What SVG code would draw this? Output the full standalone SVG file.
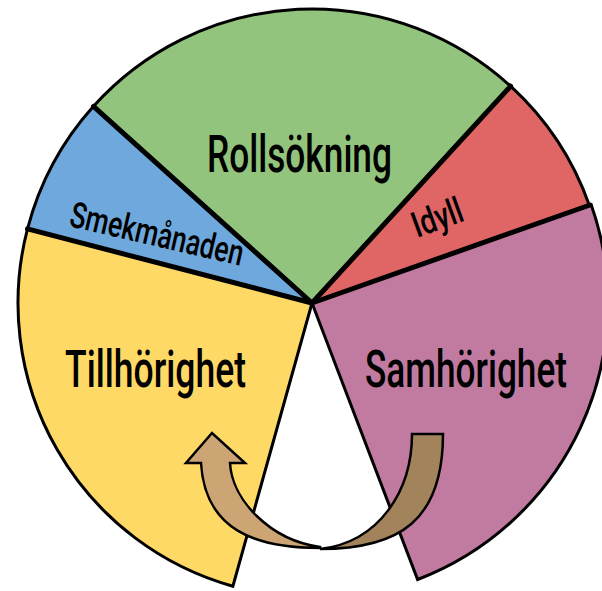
<svg xmlns="http://www.w3.org/2000/svg" width="602" height="591" viewBox="0 0 602 591">
  <style>
    .slice { stroke: #000; stroke-width: 3; stroke-linejoin: miter; }
    .sep { stroke: #000; stroke-width: 5; stroke-linecap: round; fill: none; }
    .lbl { font-family: Roboto, "Liberation Sans", sans-serif; font-weight: 500; fill: #000; }
    .big { font-size: 52px; }
    .small { font-size: 36px; }
    .arrow { stroke: #000; stroke-width: 2.5; stroke-linejoin: miter; }
  </style>
  <rect width="602" height="591" fill="#fff"/>
  <g id="tillhorighet">
    <path class="slice" fill="#FFD966" d="M312,303 L232.9,586.2 A294,294 0 0 1 27.5,228.9 Z"/>
    <text class="lbl big" x="65" y="387" textLength="181" lengthAdjust="spacingAndGlyphs">Tillhörighet</text>
  </g>
  <g id="smekmanaden">
    <path class="slice" fill="#6FA8DC" d="M312,303 L27.5,228.9 A294,294 0 0 1 93.5,106.3 Z"/>
    <text class="lbl small" transform="translate(68,226) rotate(13)" x="0" y="0" textLength="177" lengthAdjust="spacingAndGlyphs">Smekmånaden</text>
  </g>
  <g id="rollsokning">
    <path class="slice" fill="#93C47D" d="M312,303 L93.5,106.3 A294,294 0 0 1 510.6,86.2 Z"/>
    <text class="lbl big" x="207" y="172" textLength="185" lengthAdjust="spacingAndGlyphs">Rollsökning</text>
  </g>
  <g id="idyll">
    <path class="slice" fill="#E06666" d="M312,303 L510.6,86.2 A294,294 0 0 1 589.3,205.3 Z"/>
    <text class="lbl small" transform="translate(417,238) rotate(-20)" x="0" y="0" textLength="52" lengthAdjust="spacingAndGlyphs">Idyll</text>
  </g>
  <g id="samhorighet">
    <path class="slice" fill="#C27BA0" d="M312,303 L591.2,204.7 A296,296 0 0 1 417.6,579.5 Z"/>
    <text class="lbl big" x="365" y="387" textLength="202" lengthAdjust="spacingAndGlyphs">Samhörighet</text>
  </g>
  <g id="separators">
    <line class="sep" x1="312" y1="303" x2="27.5" y2="228.9"/>
    <line class="sep" x1="312" y1="303" x2="93.5" y2="106.3"/>
    <line class="sep" x1="312" y1="303" x2="510.6" y2="86.2"/>
    <line class="sep" x1="312" y1="303" x2="590" y2="205"/>
  </g>
  <g id="connectors">
    <path class="arrow" fill="#A2835B" d="M412,434 L443,434 C443,520 400,549 320,549 C380,542 412,490 412,434 Z"/>
    <path class="arrow" fill="#CDA575" d="M320,548 C255,548 205,530 201,463 L186,463 L212,433 L245,463 L230,463 C232,500 270,540 320,547 Z"/>
  </g>
</svg>
